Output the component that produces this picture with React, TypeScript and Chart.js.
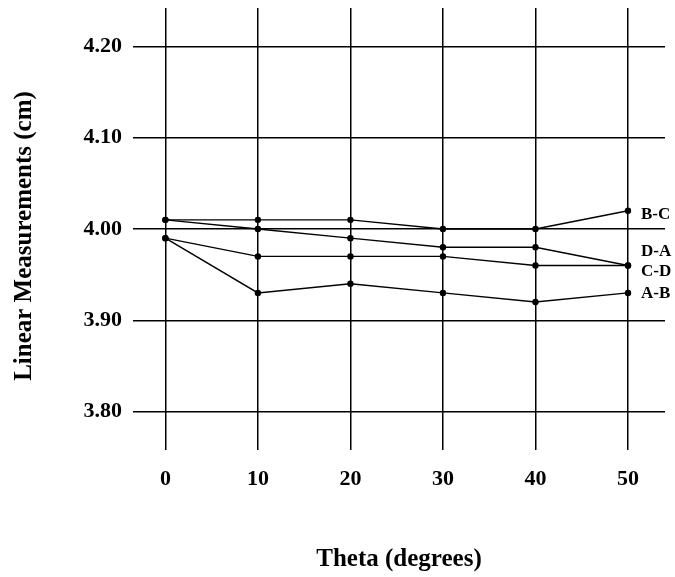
import React, { useEffect, useRef } from "react";
import { Chart, registerables } from "chart.js";

Chart.register(...registerables);

const thetaValues = [0, 10, 20, 30, 40, 50];
const yTickValues = [3.8, 3.9, 4.0, 4.1, 4.2];
const seriesNames = ["B-C", "D-A", "C-D", "A-B"];
const bcValues = [4.01, 4.01, 4.01, 4.0, 4.0, 4.02];
const daValues = [4.01, 4.0, 3.99, 3.98, 3.98, 3.96];
const cdValues = [3.99, 3.97, 3.97, 3.97, 3.96, 3.96];
const abValues = [3.99, 3.93, 3.94, 3.93, 3.92, 3.93];
const labelAnchors = [4.016, 3.975, 3.953, 3.929];
const yTitle = "Linear Measurements (cm)";
const xTitle = "Theta (degrees)";

const FONT = "'Liberation Serif', 'Times New Roman', serif";

const endLabels = {
  id: "endLabels",
  afterDatasetsDraw(chart: any) {
    const ctx = chart.ctx;
    const ys = chart.scales.y;
    ctx.save();
    ctx.font = `bold 17px ${FONT}`;
    ctx.fillStyle = "#000";
    ctx.textAlign = "left";
    ctx.textBaseline = "middle";
    chart.data.datasets.forEach((ds: any, i: number) => {
      const meta = chart.getDatasetMeta(i);
      const last = meta.data[meta.data.length - 1];
      ctx.fillText(ds.label, last.x + 13, ys.getPixelForValue(labelAnchors[i]));
    });
    ctx.restore();
  },
};

const yTitlePlugin = {
  id: "yTitlePlugin",
  afterDraw(chart: any) {
    const ctx = chart.ctx;
    const area = chart.chartArea;
    ctx.save();
    ctx.font = `bold 25px ${FONT}`;
    ctx.fillStyle = "#000";
    ctx.textAlign = "center";
    ctx.textBaseline = "middle";
    ctx.translate(25, (area.top + area.bottom) / 2 + 7);
    ctx.rotate(-Math.PI / 2);
    ctx.fillText(yTitle, 0, 0);
    ctx.restore();
  },
};

export default function App() {
  const ref = useRef<HTMLCanvasElement>(null);
  useEffect(() => {
    const all = [bcValues, daValues, cdValues, abValues];
    const chart = new Chart(ref.current as HTMLCanvasElement, {
      type: "line",
      data: {
        datasets: all.map((vals, i) => ({
          label: seriesNames[i],
          data: thetaValues.map((t, j) => ({ x: t, y: vals[j] })),
          borderColor: "#000",
          backgroundColor: "#000",
          borderWidth: 1.4,
          pointRadius: 3.2,
          pointBorderWidth: 0,
          pointBackgroundColor: "#000",
          tension: 0,
        })),
      },
      options: {
        animation: false,
        responsive: false,
        layout: { padding: { top: 8, right: 10, left: 0, bottom: 0 } },
        plugins: { legend: { display: false }, tooltip: { enabled: false } },
        scales: {
          x: {
            type: "linear",
            min: -3.5,
            max: 54,
            afterBuildTicks: (s: any) => {
              s.ticks = thetaValues.map((v) => ({ value: v }));
            },
            afterFit: (s: any) => {
              s.height = 127;
              s.paddingLeft = 0;
              s.paddingRight = 0;
            },
            border: { display: false },
            grid: { color: "#000", lineWidth: 1.5, drawTicks: false },
            ticks: {
              color: "#000",
              padding: 16,
              maxRotation: 0,
              font: { family: FONT, size: 22, weight: "bold" },
            },
            title: {
              display: true,
              text: xTitle,
              color: "#000",
              font: { family: FONT, size: 25, weight: "bold" },
              padding: { top: 0, bottom: 2 },
            },
          },
          y: {
            type: "linear",
            min: 3.758,
            max: 4.242,
            afterBuildTicks: (s: any) => {
              s.ticks = yTickValues.map((v) => ({ value: v }));
            },
            afterFit: (s: any) => {
              s.width = 133;
              s.paddingTop = 0;
              s.paddingBottom = 0;
            },
            border: { display: false },
            grid: { color: "#000", lineWidth: 1.5, drawTicks: false },
            ticks: {
              color: "#000",
              padding: 11,
              callback: (v: any) => Number(v).toFixed(2),
              font: { family: FONT, size: 22, weight: "bold" },
            },
            title: { display: false },
          },
        },
      } as any,
      plugins: [endLabels, yTitlePlugin],
    });
    return () => chart.destroy();
  }, []);
  return (
    <div style={{ position: "absolute", left: 0, top: 0, width: 675, height: 577, background: "#fff" }}>
      <canvas ref={ref} width={675} height={577} style={{ width: 675, height: 577 }} />
    </div>
  );
}
